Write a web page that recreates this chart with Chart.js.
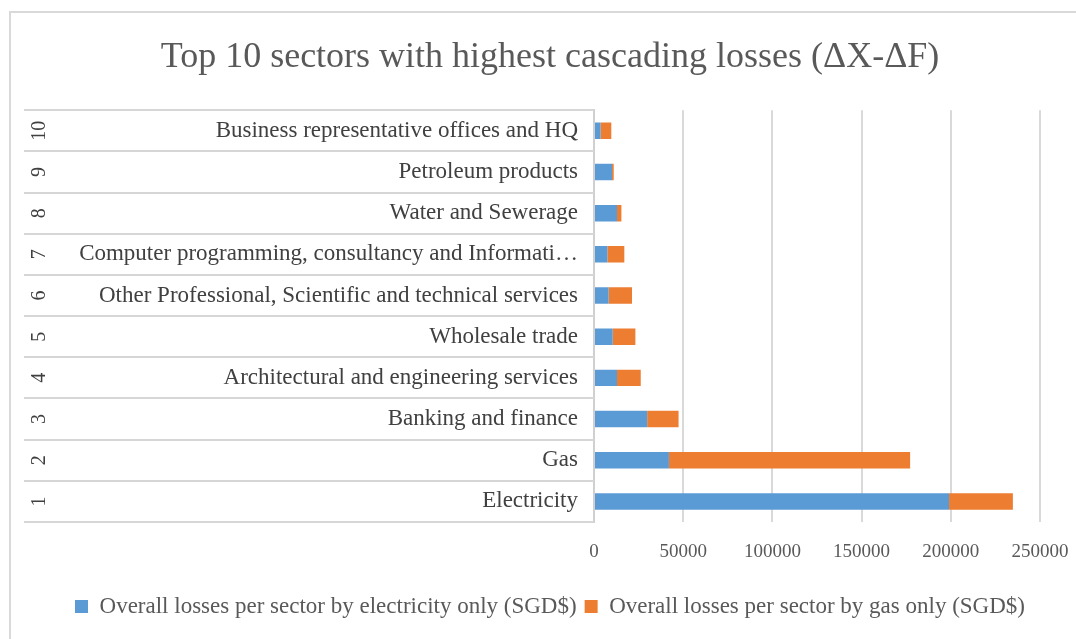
<!DOCTYPE html>
<html>
<head>
<meta charset="utf-8">
<script src="https://cdn.jsdelivr.net/npm/chart.js@4.4.0/dist/chart.umd.min.js"></script>
<style>
  html, body { margin: 0; padding: 0; background: #fff; overflow: hidden; }
  #wrap { position: relative; width: 1076px; height: 639px; }
  #frame { position: absolute; left: 9px; top: 11px; width: 1200px; height: 800px; border: 2px solid #d9d9d9; box-sizing: border-box; }
  canvas { position: absolute; left: 0; top: 0; }
</style>
</head>
<body>
<div id="wrap">
  <div id="frame"></div>
  <canvas id="lossChart" width="1076" height="639"></canvas>
</div>
<script>
// rank and sector, top row first
const ranks = ['10', '9', '8', '7', '6', '5', '4', '3', '2', '1'];
const sectors = [
  'Business representative offices and HQ',
  'Petroleum products',
  'Water and Sewerage',
  'Computer programming, consultancy and Informati…',
  'Other Professional, Scientific and technical services',
  'Wholesale trade',
  'Architectural and engineering services',
  'Banking and finance',
  'Gas',
  'Electricity'
];
const electricityLosses = [3700, 10100, 12900, 7500, 8200, 10500, 12900, 29800, 42000, 199000];
const gasLosses = [6000, 950, 2450, 9500, 13100, 12700, 13300, 17600, 135200, 35800];
const xTicks = [0, 50000, 100000, 150000, 200000, 250000];

const serif = 'Liberation Serif';

// horizontal lines boxing each row of the two-level category axis
const rowLines = {
  id: 'rowLines',
  afterDraw(chart) {
    const y = chart.scales.y;
    const r = chart.scales.rank;
    const ctx = chart.ctx;
    ctx.save();
    ctx.strokeStyle = '#d6d6d6';
    ctx.lineWidth = 2;
    for (let i = 0; i <= sectors.length; i++) {
      const py = Math.round(y.getPixelForValue(i - 0.5));
      ctx.beginPath();
      ctx.moveTo(r.left, py);
      ctx.lineTo(y.right, py);
      ctx.stroke();
    }
    ctx.restore();
  }
};

const ctx = document.getElementById('lossChart').getContext('2d');
const lossChart = new Chart(ctx, {
  type: 'bar',
  data: {
    labels: sectors,
    datasets: [
      {
        label: 'Overall losses per sector by electricity only (SGD$)',
        data: electricityLosses,
        backgroundColor: '#5B9BD5'
      },
      {
        label: 'Overall losses per sector by gas only (SGD$)',
        data: gasLosses,
        backgroundColor: '#ED7D31'
      }
    ]
  },
  options: {
    indexAxis: 'y',
    responsive: false,
    animation: false,
    barPercentage: 0.4,
    categoryPercentage: 1,
    layout: { padding: { left: 24, right: 0, top: 0, bottom: 11 } },
    plugins: {
      title: {
        display: true,
        text: 'Top 10 sectors with highest cascading losses (ΔX-ΔF)',
        color: '#595959',
        font: { family: serif, size: 36, weight: 'normal' },
        padding: { top: 36, bottom: 31 }
      },
      legend: {
        position: 'bottom',
        labels: {
          color: '#595959',
          font: { family: serif, size: 23 },
          boxWidth: 13,
          boxHeight: 13,
          padding: 8
        }
      },
      tooltip: { enabled: false }
    },
    scales: {
      x: {
        stacked: true,
        min: xTicks[0],
        max: xTicks[xTicks.length - 1],
        afterBuildTicks(s) { s.ticks = xTicks.map(v => ({ value: v })); },
        afterFit(s) { s.paddingRight = 36; s.height = 65; },
        ticks: {
          color: '#595959',
          font: { family: serif, size: 19 },
          padding: 19,
          callback: v => String(v)
        },
        grid: { color: '#d9d9d9', lineWidth: 2, drawTicks: false },
        border: { display: false }
      },
      y: {
        stacked: true,
        position: 'left',
        weight: 0,
        afterFit(s) { s.width = 544; },
        ticks: { color: '#404040', font: { family: serif, size: 23 }, padding: 16, autoSkip: false },
        grid: { drawOnChartArea: false, drawTicks: false },
        border: { display: true, color: '#d0d0d0', width: 2 }
      },
      rank: {
        type: 'category',
        labels: ranks,
        position: 'left',
        weight: 1,
        offset: true,
        afterFit(s) { s.width = 26; },
        ticks: {
          color: '#404040',
          font: { family: serif, size: 20 },
          minRotation: 90,
          maxRotation: 90,
          crossAlign: 'center',
          padding: 0,
          autoSkip: false
        },
        grid: { drawOnChartArea: false, drawTicks: false },
        border: { display: false }
      }
    }
  },
  plugins: [rowLines]
});
</script>
</body>
</html>
